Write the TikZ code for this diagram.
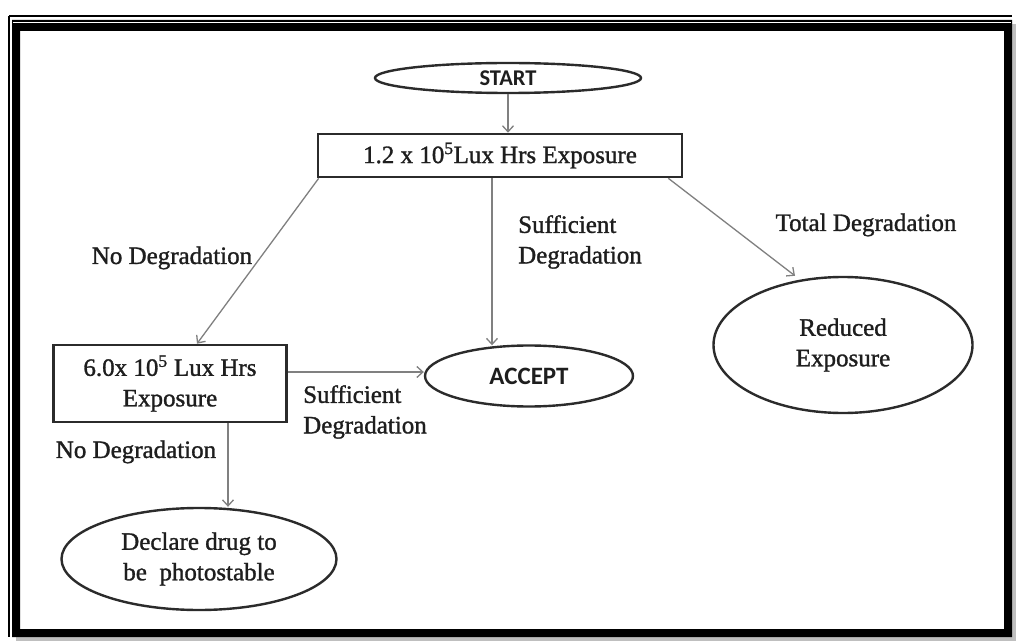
\documentclass[tikz,border=0pt]{standalone}
\usepackage{fontspec}
\setmainfont{Liberation Serif}[FakeBold=1.2]
\newfontfamily\calib{Carlito}
\usetikzlibrary{shapes.geometric,arrows.meta}
\definecolor{outl}{HTML}{2B2B2B}
\definecolor{arrc}{HTML}{808080}
\definecolor{txtc}{HTML}{1E1E1E}
\tikzset{
  txt/.style={font=\fontsize{25}{30.5}\selectfont, text=txtc, inner sep=0pt, align=center},
  bx/.style={draw=outl, line width=2.6pt, rectangle, txt},
  ell/.style={draw=outl, line width=2.4pt, ellipse, txt, inner sep=0pt},
  sansell/.style={ell, font=\calib\bfseries\fontsize{22.5}{26}\selectfont},
  arr/.style={draw=arrc, line width=1.3pt, -{Straight Barb[length=6pt,width=11pt]}},
  lbl/.style={txt, align=left}
}
\begin{document}
\begin{tikzpicture}[x=1pt,y=-1pt]
\useasboundingbox (0,0) rectangle (1017,644);
\fill[white] (0,0) rectangle (1017,644);
% frame
\fill[black!25] (16,641) rectangle (1016,634);
\fill[black!25] (1016,24) rectangle (1009,641);
\draw[black, line width=2pt] (9,16) -- (1012,16);
\draw[black, line width=2pt] (9,16) -- (9,637);
\fill[black, even odd rule] (12,20) rectangle (1012,637) (20,31) rectangle (1004,629);
\draw[white, line width=1.5pt] (13,22.5) -- (1011,22.5);

% nodes
\node[sansell, minimum width=266pt, minimum height=30pt] (start) at (508,78) {START};
\node[bx, minimum width=364pt, minimum height=43pt] (b1) at (500,155.5) {1.2 x 10\textsuperscript{5}Lux Hrs Exposure};
\node[sansell, font=\calib\bfseries\fontsize{25}{28}\selectfont, minimum width=208pt, minimum height=61pt] (acc) at (529,376) {ACCEPT};
\node[ell, minimum width=259pt, minimum height=136pt] (red) at (843,345) {Reduced\\Exposure};
\node[bx, minimum width=233pt, minimum height=77pt] (b2) at (170,383.5) {6.0x 10\textsuperscript{5} Lux Hrs\\Exposure};
\node[ell, minimum width=275pt, minimum height=102pt] (dec) at (199,559) {Declare drug to\\be\ \ photostable};

% labels
\node[lbl] (l1) at (172,258) {No Degradation};
\node[lbl, anchor=west] (l2) at (518,242) {Sufficient\\Degradation};
\node[lbl] (l3) at (866,225) {Total Degradation};
\node[lbl, anchor=west] (l4) at (303,412) {Sufficient\\Degradation};
\node[lbl] (l5) at (136,452) {No Degradation};

% connectors
\coordinate (accin) at ([yshift=4pt]acc.west);
\draw[arr] (start.south) -- (start.south |- b1.north);
\draw[arr] ([xshift=2pt]b1.south west) -- ([xshift=27pt]b2.north);
\draw[arr] ([xshift=-8pt]b1.south) -- ([xshift=-37pt,yshift=-1pt]acc.north);
\draw[arr] ([xshift=-15pt]b1.south east) -- ([xshift=-48pt]red.north);
\draw[arr] (b2.east |- accin) -- (accin);
\draw[arr] ([xshift=58pt]b2.south) -- ([xshift=58pt]b2.south |- dec.north);
\end{tikzpicture}
\end{document}
